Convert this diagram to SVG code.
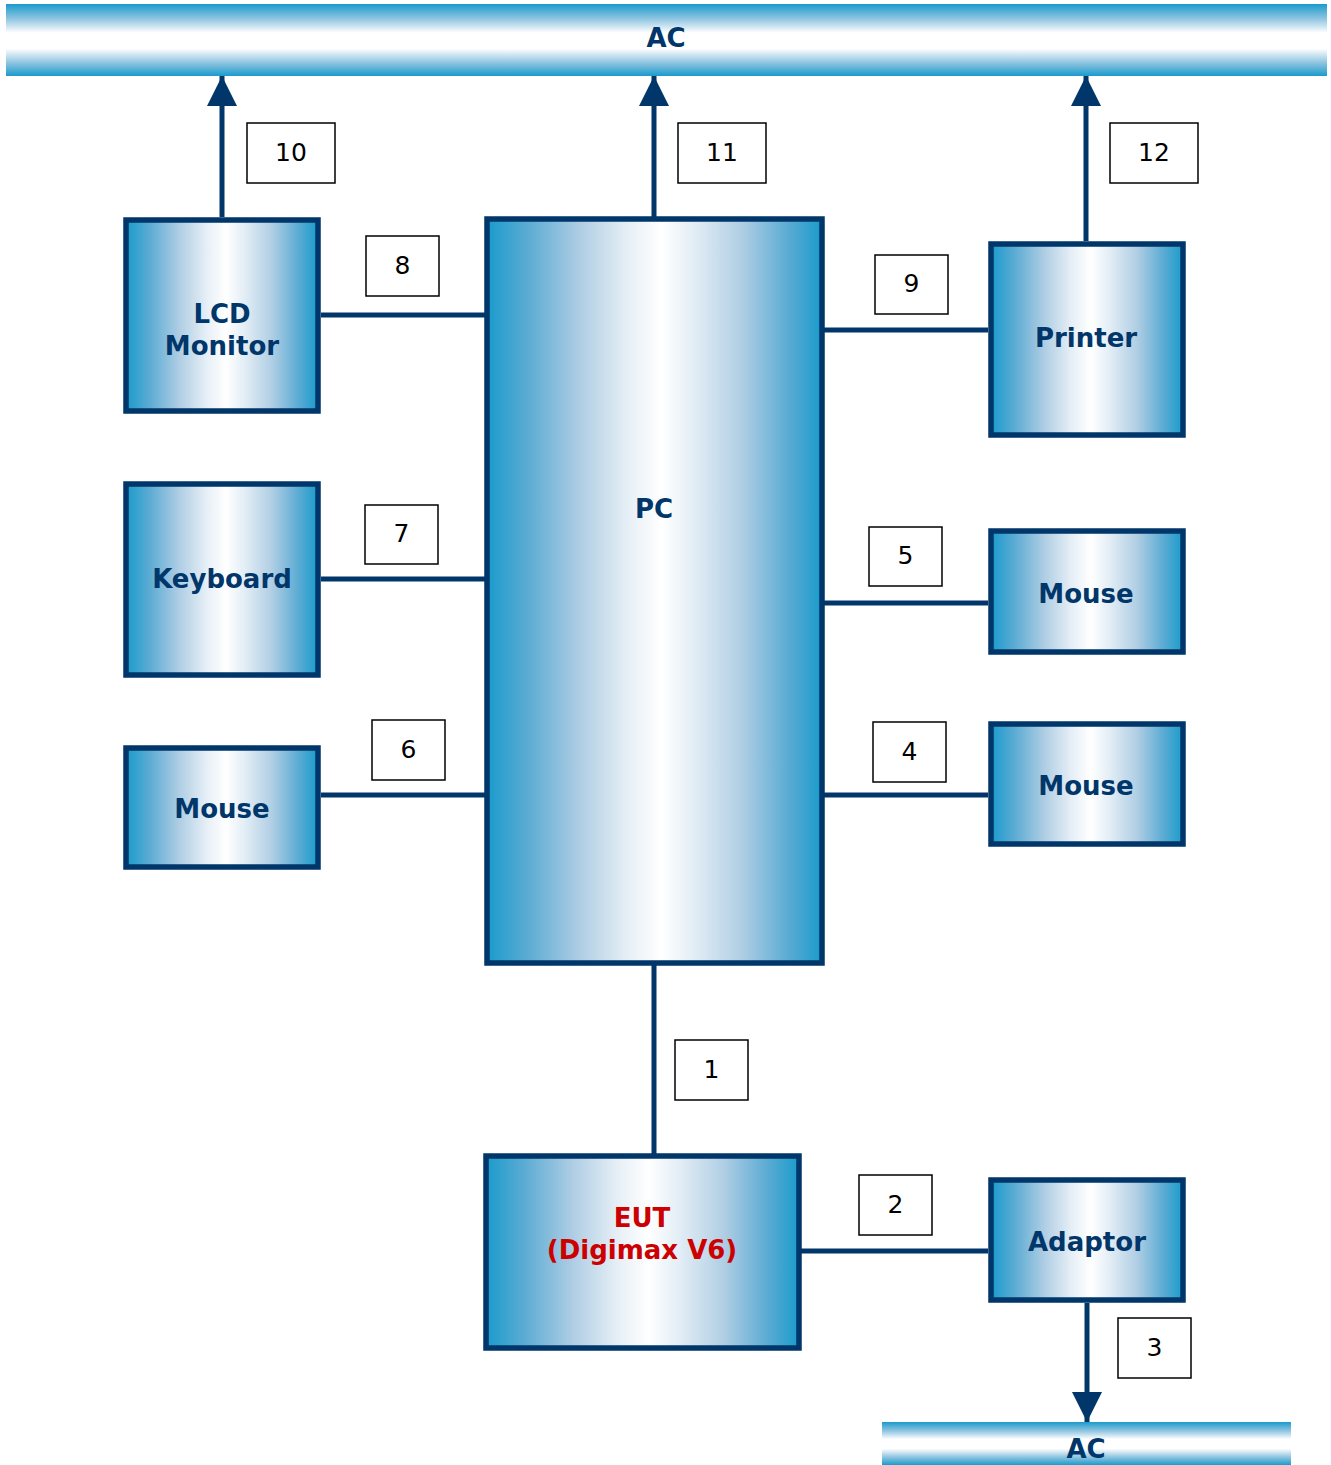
<svg xmlns="http://www.w3.org/2000/svg" width="1331" height="1465" viewBox="0 0 1331 1465">
<defs>
<linearGradient id="boxg" x1="0" y1="0" x2="1" y2="0">
<stop offset="0" stop-color="#1a9bcc"/>
<stop offset="0.12" stop-color="#5aabd3"/>
<stop offset="0.28" stop-color="#b0cee4"/>
<stop offset="0.42" stop-color="#e6eff6"/>
<stop offset="0.52" stop-color="#ffffff"/>
<stop offset="0.62" stop-color="#e2edf5"/>
<stop offset="0.76" stop-color="#b0cee4"/>
<stop offset="0.9" stop-color="#5aabd3"/>
<stop offset="1" stop-color="#1a9bcc"/>
</linearGradient>
<linearGradient id="barg" x1="0" y1="0" x2="0" y2="1">
<stop offset="0" stop-color="#1a9bcc"/>
<stop offset="0.2" stop-color="#8cc3e0"/>
<stop offset="0.4" stop-color="#ffffff"/>
<stop offset="0.62" stop-color="#ffffff"/>
<stop offset="0.82" stop-color="#8cc3e0"/>
<stop offset="1" stop-color="#1a9bcc"/>
</linearGradient>
<marker id="arr" viewBox="0 0 30 30" refX="30" refY="15" markerWidth="30" markerHeight="30" markerUnits="userSpaceOnUse" orient="auto">
<path d="M0,0 L30,15 L0,30 Z" fill="#00366a"/>
</marker>
</defs>
<style>
.box{fill:url(#boxg);stroke:#00366a;stroke-width:5.5}
.bar{fill:url(#barg)}
.t{font-family:"DejaVu Sans",Verdana,sans-serif;font-weight:bold;font-size:26px;fill:#00366a;text-anchor:middle}
.red{fill:#cc0000}
.lb{fill:#ffffff;stroke:#000000;stroke-width:1.5}
.lt{font-family:"DejaVu Sans",Verdana,sans-serif;font-size:25px;fill:#000000;text-anchor:middle}
.c{stroke:#00366a;stroke-width:5;fill:none}
</style>
<g id="ac-top"><rect class="bar" x="6" y="4" width="1321" height="72"/><text class="t" x="666" y="47">AC</text></g>
<g id="ac-bottom"><rect class="bar" x="882" y="1422" width="409" height="43"/><text class="t" x="1086" y="1458">AC</text></g>
<g id="connectors">
<line class="c" x1="222" y1="217" x2="222" y2="76" marker-end="url(#arr)"/>
<line class="c" x1="654" y1="217" x2="654" y2="76" marker-end="url(#arr)"/>
<line class="c" x1="1086" y1="241" x2="1086" y2="76" marker-end="url(#arr)"/>
<line class="c" x1="1087" y1="1303" x2="1087" y2="1422" marker-end="url(#arr)"/>
<line class="c" x1="321" y1="315" x2="485" y2="315"/>
<line class="c" x1="321" y1="579" x2="485" y2="579"/>
<line class="c" x1="321" y1="795" x2="485" y2="795"/>
<line class="c" x1="823" y1="330" x2="988" y2="330"/>
<line class="c" x1="823" y1="603" x2="988" y2="603"/>
<line class="c" x1="823" y1="795" x2="988" y2="795"/>
<line class="c" x1="654" y1="965" x2="654" y2="1154"/>
<line class="c" x1="801" y1="1251" x2="988" y2="1251"/>
</g>
<g id="labels">
<rect class="lb" x="247" y="123" width="88" height="60"/><text class="lt" x="291" y="161">10</text>
<rect class="lb" x="678" y="123" width="88" height="60"/><text class="lt" x="722" y="161">11</text>
<rect class="lb" x="1110" y="123" width="88" height="60"/><text class="lt" x="1154" y="161">12</text>
<rect class="lb" x="366" y="236" width="73" height="60"/><text class="lt" x="402.5" y="274">8</text>
<rect class="lb" x="875" y="255" width="73" height="59"/><text class="lt" x="911.5" y="292">9</text>
<rect class="lb" x="365" y="505" width="73" height="59"/><text class="lt" x="401.5" y="542">7</text>
<rect class="lb" x="869" y="527" width="73" height="59"/><text class="lt" x="905.5" y="564">5</text>
<rect class="lb" x="372" y="720" width="73" height="60"/><text class="lt" x="408.5" y="758">6</text>
<rect class="lb" x="873" y="722" width="73" height="60"/><text class="lt" x="909.5" y="760">4</text>
<rect class="lb" x="675" y="1040" width="73" height="60"/><text class="lt" x="711.5" y="1078">1</text>
<rect class="lb" x="859" y="1175" width="73" height="60"/><text class="lt" x="895.5" y="1213">2</text>
<rect class="lb" x="1118" y="1318" width="73" height="60"/><text class="lt" x="1154.5" y="1356">3</text>
</g>
<g id="lcd"><rect class="box" x="126" y="220" width="192" height="191"/><text class="t" x="222" y="323">LCD</text><text class="t" x="222" y="355">Monitor</text></g>
<g id="pc"><rect class="box" x="487" y="219" width="335" height="744"/><text class="t" x="654" y="518">PC</text></g>
<g id="printer"><rect class="box" x="991" y="244" width="192" height="191"/><text class="t" x="1086" y="347">Printer</text></g>
<g id="keyboard"><rect class="box" x="126" y="484" width="192" height="191"/><text class="t" x="222" y="588">Keyboard</text></g>
<g id="mouse-left"><rect class="box" x="126" y="748" width="192" height="119"/><text class="t" x="222" y="818">Mouse</text></g>
<g id="mouse-right-1"><rect class="box" x="991" y="531" width="192" height="121"/><text class="t" x="1086" y="603">Mouse</text></g>
<g id="mouse-right-2"><rect class="box" x="991" y="724" width="192" height="120"/><text class="t" x="1086" y="795">Mouse</text></g>
<g id="eut"><rect class="box" x="486" y="1156" width="313" height="192"/><text class="t red" x="642" y="1227">EUT</text><text class="t red" x="642" y="1259">(Digimax V6)</text></g>
<g id="adaptor"><rect class="box" x="991" y="1180" width="192" height="120"/><text class="t" x="1087" y="1251">Adaptor</text></g>
</svg>
